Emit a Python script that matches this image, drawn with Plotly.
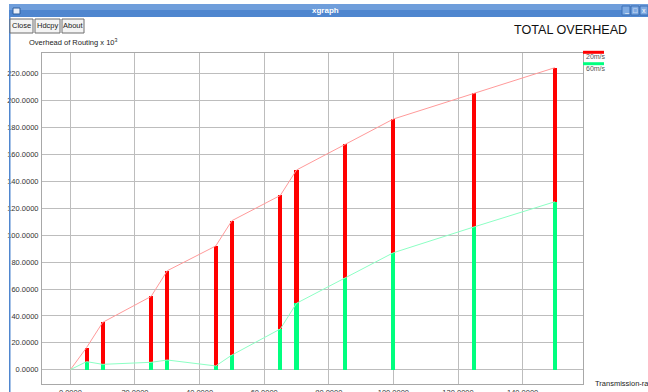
import plotly.graph_objects as go

# Routing overhead (x 10^3) versus transmission range, one series per node speed
transmission_range = [0, 5, 10, 25, 30, 45, 50, 65, 70, 85, 100, 125, 150]
overhead_20ms = [0, 16.4, 35.2, 54.5, 73.6, 92.0, 110.8, 129.6, 148.5, 167.6, 186.4, 205.5, 224.6]
overhead_60ms = [0, 6.0, 4.0, 5.5, 7.2, 2.8, 10.9, 30.3, 49.4, 68.4, 87.0, 106.2, 124.9]
series_names = ["20m/s", "60m/s"]
x_ticks = [0, 20, 40, 60, 80, 100, 120, 140]
y_ticks = [0, 20, 40, 60, 80, 100, 120, 140, 160, 180, 200, 220]

W, H = 648, 392
L, R, T, B = 42, 65, 53, 8
PW, PH = W - L - R, H - T - B
FONT = "Liberation Sans, Arial, sans-serif"

BAR_COLORS = ["#ff0000", "#00ff7f"]
LINE_COLORS = ["#ff9a9a", "#8cffc4"]
GRID = "#bdbdbd"


def px(x):
    """window pixel column -> paper x"""
    return (x - L) / PW


def py(y):
    """window pixel row -> paper y"""
    return (H - B - y) / PH


fig = go.Figure()

for name, vals, bc in zip(series_names, [overhead_20ms, overhead_60ms], BAR_COLORS):
    fig.add_trace(go.Bar(x=transmission_range, y=vals, width=1.25, name=name,
                         marker=dict(color=bc, line=dict(width=0)), showlegend=False))
for name, vals, lc in zip(series_names, [overhead_20ms, overhead_60ms], LINE_COLORS):
    fig.add_trace(go.Scatter(x=transmission_range, y=vals, mode="lines", name=name,
                             line=dict(color=lc, width=1), showlegend=False))

shapes = []
annotations = []

# window frame: title bar, left border, window buttons
shapes.append(dict(type="rect", xref="paper", yref="paper", x0=px(9), x1=px(660),
                   y0=py(17), y1=py(4), fillcolor="#4f86cf", line=dict(width=0), layer="above"))
shapes.append(dict(type="rect", xref="paper", yref="paper", x0=px(9), x1=px(660),
                   y0=py(10), y1=py(4), fillcolor="#6f9edb", line=dict(width=0), layer="above"))
shapes.append(dict(type="rect", xref="paper", yref="paper", x0=px(9), x1=px(10.5),
                   y0=py(H), y1=py(17), fillcolor="#4f86cf", line=dict(width=0), layer="above"))
shapes.append(dict(type="rect", xref="paper", yref="paper", x0=px(13), x1=px(20),
                   y0=py(14), y1=py(8), fillcolor="#e8eef8", line=dict(color="#2e5f9e", width=1),
                   layer="above"))
for bx in [622, 631, 640]:
    shapes.append(dict(type="rect", xref="paper", yref="paper", x0=px(bx), x1=px(bx + 8),
                       y0=py(15), y1=py(6), fillcolor="#7eaae2", line=dict(color="#3a6fb5", width=1),
                       layer="above"))
for txt, cx in zip(["_", "□", "x"], [626, 635, 644]):
    annotations.append(dict(text=txt, xref="paper", yref="paper", x=px(cx), y=py(10.5),
                            showarrow=False, font=dict(family=FONT, size=7, color="white"),
                            xanchor="center", yanchor="middle"))
annotations.append(dict(text="<b>xgraph</b>", xref="paper", yref="paper", x=px(325), y=py(11),
                        showarrow=False, font=dict(family=FONT, size=8, color="white"),
                        xanchor="center", yanchor="middle"))

# command buttons
for label, x0, x1 in [("Close", 10, 33), ("Hdcpy", 35, 60), ("About", 62, 84)]:
    shapes.append(dict(type="rect", xref="paper", yref="paper", x0=px(x0), x1=px(x1),
                       y0=py(33), y1=py(19), fillcolor="#f4f4f4",
                       line=dict(color="#6e6e6e", width=1), layer="above"))
    annotations.append(dict(text=label, xref="paper", yref="paper", x=px((x0 + x1) / 2), y=py(26),
                            showarrow=False, font=dict(family=FONT, size=7.5, color="#222"),
                            xanchor="center", yanchor="middle"))

annotations.append(dict(text="TOTAL OVERHEAD", xref="paper", yref="paper", x=px(512), y=py(30),
                        showarrow=False, font=dict(family=FONT, size=12.6, color="#111"),
                        xanchor="left", yanchor="middle"))
annotations.append(dict(text="Overhead of Routing x 10<sup>3</sup>", xref="paper", yref="paper",
                        x=px(27), y=py(42), showarrow=False,
                        font=dict(family=FONT, size=7.5, color="#222"),
                        xanchor="left", yanchor="middle"))
annotations.append(dict(text="Transmission-range", xref="paper", yref="paper", x=px(593), y=py(383),
                        showarrow=False, font=dict(family=FONT, size=7.5, color="#222"),
                        xanchor="left", yanchor="middle"))

# series key at the right of the frame
for name, bc, ly in zip(series_names, BAR_COLORS, [52.3, 63.7]):
    shapes.append(dict(type="line", xref="paper", yref="paper", x0=px(583), x1=px(604),
                       y0=py(ly), y1=py(ly), line=dict(color=bc, width=3), layer="above"))
    annotations.append(dict(text=name, xref="paper", yref="paper", x=px(584), y=py(ly + 4.5),
                            showarrow=False, font=dict(family=FONT, size=7, color="#555"),
                            xanchor="left", yanchor="middle"))

axis_common = dict(showgrid=True, gridcolor=GRID, gridwidth=1, zeroline=False,
                   showline=True, linecolor="#a8a8a8", linewidth=1, mirror=True,
                   ticks="", tickformat=".4f", fixedrange=True, automargin=False,
                   tickfont=dict(family=FONT, size=7.5, color="#333"))

fig.update_layout(
    width=W, height=H,
    margin=dict(l=L, r=R, t=T, b=B, pad=0, autoexpand=False),
    paper_bgcolor="white", plot_bgcolor="white",
    barmode="overlay", bargap=0,
    xaxis=dict(range=[-8.79, 158.7], tickvals=x_ticks, ticklabelstandoff=1, **axis_common),
    yaxis=dict(range=[-10.63, 235.5], tickvals=y_ticks, ticklabelstandoff=1, **axis_common),
    shapes=shapes, annotations=annotations,
)

fig.write_html("out.html")
